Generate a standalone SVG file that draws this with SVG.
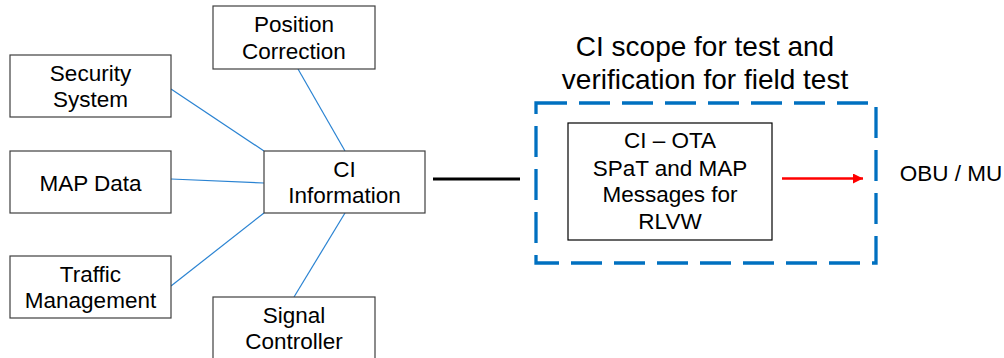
<svg xmlns="http://www.w3.org/2000/svg" width="1004" height="358" viewBox="0 0 1004 358">
  <style>
    .box { fill: #ffffff; stroke: #3f3f3f; stroke-width: 1.2; }
    .inner { fill: #ffffff; stroke: #000000; stroke-width: 1.2; }
    .lbl { font-family: "Liberation Sans", Arial, sans-serif; font-size: 22.5px; fill: #000000; text-anchor: middle; }
    .title { font-family: "Liberation Sans", Arial, sans-serif; font-size: 28px; fill: #000000; text-anchor: middle; }
    .link { stroke: #2a83d2; stroke-width: 1.2; fill: none; }
    .scope { fill: none; stroke: #0070c0; stroke-width: 3.3; stroke-dasharray: 31 12; }
  </style>
  <defs>
    <marker id="redHead" markerWidth="12" markerHeight="12" refX="10" refY="5" orient="auto" markerUnits="userSpaceOnUse">
      <path d="M0,0 L10,5 L0,10 Z" fill="#ff0000"/>
    </marker>
  </defs>

  <rect width="1004" height="358" fill="#ffffff"/>

  <!-- connectors -->
  <g id="connectors">
    <line class="link" x1="171" y1="89" x2="264" y2="151"/>
    <line class="link" x1="298" y1="69" x2="345" y2="151"/>
    <line class="link" x1="171" y1="179" x2="264" y2="183"/>
    <line class="link" x1="171" y1="286" x2="264" y2="213"/>
    <line class="link" x1="345" y1="213" x2="294" y2="297"/>
    <line x1="433" y1="179" x2="520" y2="179" stroke="#000000" stroke-width="3"/>
    <line x1="782" y1="178.5" x2="863" y2="178.5" stroke="#ff0000" stroke-width="2.7" marker-end="url(#redHead)"/>
  </g>

  <g id="position-correction">
    <rect class="box" x="213" y="6" width="162" height="63"/>
    <text class="lbl" x="294" y="32">Position</text>
    <text class="lbl" x="294" y="59">Correction</text>
  </g>

  <g id="security-system">
    <rect class="box" x="10" y="55" width="161" height="62"/>
    <text class="lbl" x="90.5" y="81">Security</text>
    <text class="lbl" x="90.5" y="107">System</text>
  </g>

  <g id="map-data">
    <rect class="box" x="10" y="151" width="161" height="62"/>
    <text class="lbl" x="90.5" y="191">MAP Data</text>
  </g>

  <g id="traffic-management">
    <rect class="box" x="10" y="256" width="161" height="62"/>
    <text class="lbl" x="90.5" y="282">Traffic</text>
    <text class="lbl" x="90.5" y="308">Management</text>
  </g>

  <g id="ci-information">
    <rect class="box" x="264" y="151" width="161" height="62"/>
    <text class="lbl" x="344.5" y="177">CI</text>
    <text class="lbl" x="344.5" y="203">Information</text>
  </g>

  <g id="signal-controller">
    <rect class="box" x="213" y="297" width="162" height="70"/>
    <text class="lbl" x="294" y="323">Signal</text>
    <text class="lbl" x="294" y="349">Controller</text>
  </g>

  <g id="ci-scope">
    <text class="title" x="705" y="56">CI scope for test and</text>
    <text class="title" x="705" y="89">verification for field test</text>
    <rect class="scope" x="536" y="103" width="340" height="160"/>
  </g>

  <g id="ci-ota">
    <rect class="inner" x="568" y="123" width="204" height="117"/>
    <text class="lbl" x="670" y="148">CI – OTA</text>
    <text class="lbl" x="670" y="176">SPaT and MAP</text>
    <text class="lbl" x="670" y="202">Messages for</text>
    <text class="lbl" x="670" y="229">RLVW</text>
  </g>

  <g id="obu-mu">
    <text class="lbl" x="951" y="181">OBU / MU</text>
  </g>
</svg>
